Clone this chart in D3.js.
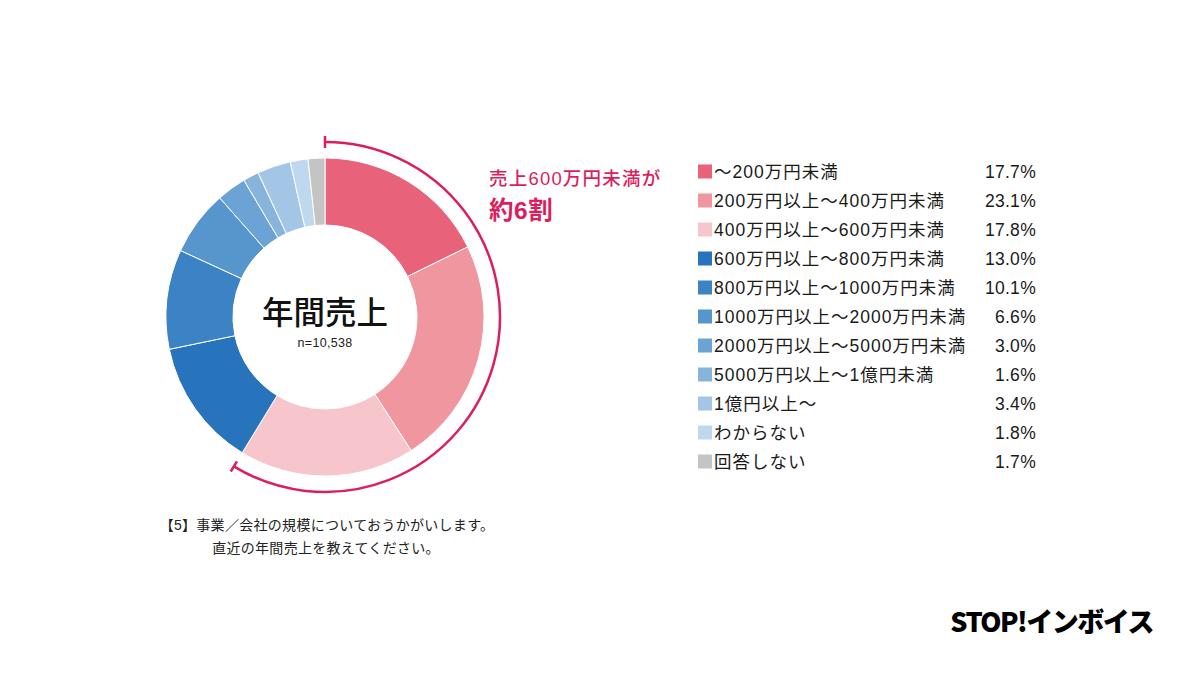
<!DOCTYPE html>
<html><head><meta charset="utf-8">
<script src="https://cdn.jsdelivr.net/npm/d3@7"></script>
<style>
body{margin:0;background:#fff;}
svg{display:block;font-family:"Liberation Sans","Noto Sans CJK JP",sans-serif;}
</style></head>
<body><svg id="c" width="1200" height="675"></svg>
<script>
const categories = ["～200万円未満","200万円以上～400万円未満","400万円以上～600万円未満","600万円以上～800万円未満","800万円以上～1000万円未満","1000万円以上～2000万円未満","2000万円以上～5000万円未満","5000万円以上～1億円未満","1億円以上～","わからない","回答しない"];
const values = [17.7,23.1,17.8,13.0,10.1,6.6,3.0,1.6,3.4,1.8,1.7];
const colors = ["#E8627A","#F0969F","#F7C5CC","#2774BD","#3C83C5","#5795CD","#6CA3D5","#88B4DC","#A4C6E6","#BFD8EE","#C4C4C4"];
const highlightCount = 3;

const svg = d3.select("#c");
const cx = 325, cy = 317, rOut = 159, rIn = 92;
const g = svg.append("g").attr("transform",`translate(${cx},${cy})`);
const pie = d3.pie().sort(null).value(d=>d);
const arcs = pie(values);
const arc = d3.arc().innerRadius(rIn).outerRadius(rOut);
g.selectAll("path.s").data(arcs).enter().append("path").attr("class","s")
  .attr("d",arc).attr("fill",(d,i)=>colors[i]).attr("stroke","#fff").attr("stroke-width",1);

// annotation arc
const endAngle = arcs[highlightCount-1].endAngle;
const rA = 175;
const accent = "#DD1E5C";
g.append("path").attr("d", d3.arc().innerRadius(rA).outerRadius(rA).startAngle(0).endAngle(endAngle)())
  .attr("fill","none").attr("stroke",accent).attr("stroke-width",2.5);
[0,endAngle].forEach(a=>{
  const x = Math.sin(a), y = -Math.cos(a);
  g.append("line").attr("x1",(rA-6)*x).attr("y1",(rA-6)*y).attr("x2",(rA+6)*x).attr("y2",(rA+6)*y)
   .attr("stroke",accent).attr("stroke-width",2.5);
});
svg.append("text").attr("x",489).attr("y",185).attr("fill",accent).attr("font-size",18.5).attr("font-weight",500).attr("letter-spacing",1.2).text("売上600万円未満が");
svg.append("text").attr("x",489).attr("y",219).attr("fill",accent).attr("font-size",24.5).attr("font-weight",700).attr("letter-spacing",0.5).text("約6割");

// center
g.append("text").attr("text-anchor","middle").attr("y",7).attr("font-size",31.5).attr("font-weight",500).attr("fill","#111").attr("font-family","Noto Sans CJK JP").text("年間売上");
g.append("text").attr("text-anchor","middle").attr("y",30).attr("font-size",12.5).attr("fill","#222").attr("letter-spacing",0.3).text("n=10,538");

// legend
const y = d3.scaleBand().domain(categories).range([157,476]).padding(0);
const lg = svg.append("g");
categories.forEach((c,i)=>{
  const yc = y(c)+y.bandwidth()/2;
  lg.append("rect").attr("x",698).attr("y",yc-7).attr("width",14).attr("height",14).attr("fill",colors[i]);
  lg.append("text").attr("x",714).attr("y",yc+6.5).attr("font-size",17.5).attr("fill","#1a1a1a").attr("letter-spacing",1.0).text(c);
  lg.append("text").attr("x",1036).attr("y",yc+6.5).attr("text-anchor","end").attr("font-size",17.5).attr("fill","#1a1a1a").attr("letter-spacing",0.3).text(values[i].toFixed(1)+"%");
});

// note
svg.append("text").attr("x",327).attr("y",530).attr("text-anchor","middle").attr("font-size",14).attr("fill","#222").attr("letter-spacing",0.3).text("【5】事業／会社の規模についておうかがいします。");
svg.append("text").attr("x",326).attr("y",553).attr("text-anchor","middle").attr("font-size",14).attr("fill","#222").attr("letter-spacing",0.3).text("直近の年間売上を教えてください。");

// logo
svg.append("text").attr("x",1153).attr("y",632).attr("text-anchor","end").attr("font-size",27).attr("font-weight",900).attr("fill","#000").attr("letter-spacing",-1.5).attr("font-family","Noto Sans CJK JP").text("STOP!インボイス");
</script></body></html>
